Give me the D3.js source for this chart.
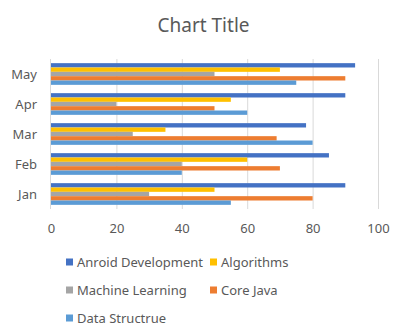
<!DOCTYPE html>
<html><head><meta charset="utf-8">
<script src="https://cdn.jsdelivr.net/npm/d3@7"></script>
<style>body{margin:0;background:#fff}svg{display:block}text{font-family:"Noto Sans","Open Sans",sans-serif;fill:#595959}</style>
</head><body><svg id="c" width="407" height="335"></svg>
<script>
const categories = ["May","Apr","Mar","Feb","Jan"];
const seriesNames = ["Anroid Development","Algorithms","Machine Learning","Core Java","Data Structrue"];
const seriesColors = ["#4472C4","#FFC000","#A5A5A5","#ED7D31","#5B9BD5"];
// values per series, in category order May, Apr, Mar, Feb, Jan
const android = [93, 90, 78, 85, 90];
const algorithms = [70, 55, 35, 60, 50];
const machineLearning = [50, 20, 25, 40, 30];
const coreJava = [90, 50, 69, 70, 80];
const dataStructure = [75, 60, 80, 40, 55];
const xTicks = [0, 20, 40, 60, 80, 100];
const seriesValues = [android, algorithms, machineLearning, coreJava, dataStructure];

const svg = d3.select("#c");
const pLeft = 51, pRight = 378, pTop = 59, pBottom = 209;
const x = d3.scaleLinear().domain([0, 100]).range([pLeft, pRight]);
const y = d3.scaleBand().domain(categories).range([pTop, pBottom]).paddingInner(0.277).paddingOuter(0.1385);
const ys = d3.scaleBand().domain(seriesNames).range([0, y.bandwidth()]);

svg.append("text").attr("x", 203.5).attr("y", 32).attr("text-anchor", "middle")
  .style("font-size", "19px").text("Chart Title");

// gridlines
svg.append("g").selectAll("line").data(xTicks.filter(d => d > 0)).join("line")
  .attr("x1", d => x(d)).attr("x2", d => x(d)).attr("y1", pTop).attr("y2", pBottom)
  .attr("stroke", "#d9d9d9").attr("stroke-width", 1)
  .attr("transform", "translate(0.5,0)");

// bars
seriesNames.forEach((s, i) => {
  svg.append("g").selectAll("rect").data(seriesValues[i]).join("rect")
    .attr("x", x(0))
    .attr("y", (d, j) => y(categories[j]) + ys(s))
    .attr("width", d => x(d) - x(0))
    .attr("height", ys.bandwidth())
    .attr("fill", seriesColors[i]);
});

// y axis line
svg.append("line").attr("x1", x(0) - 0.5).attr("x2", x(0) - 0.5).attr("y1", pTop).attr("y2", pBottom)
  .attr("stroke", "#d9d9d9");

// axes
const xAxis = d3.axisBottom(x).tickValues(xTicks).tickSize(0).tickPadding(0);
const gx = svg.append("g").attr("transform", `translate(0,${pBottom})`).call(xAxis);
gx.select(".domain").remove();
gx.selectAll("text").attr("y", 24).attr("dy", null).style("font-size", "13px").style("fill", "#595959");

const yAxis = d3.axisLeft(y).tickSize(0).tickPadding(0);
const gy = svg.append("g").attr("transform", `translate(${pLeft},0)`).call(yAxis);
gy.select(".domain").remove();
gy.selectAll("text").attr("x", -14).attr("dy", "0.35em").style("font-size", "13px").style("fill", "#595959");
gy.selectAll(".tick line").remove();

// legend
const legendPos = [[66, 262], [210, 262], [66, 290], [210, 290], [66, 318]];
const lg = svg.append("g").selectAll("g").data(seriesNames).join("g")
  .attr("transform", (d, i) => `translate(${legendPos[i][0]},${legendPos[i][1]})`);
lg.append("rect").attr("x", 0).attr("y", -3.5).attr("width", 7).attr("height", 7)
  .attr("fill", (d, i) => seriesColors[i]);
lg.append("text").attr("x", 11).attr("dy", "0.35em").style("font-size", "13px").text(d => d);
</script></body></html>
